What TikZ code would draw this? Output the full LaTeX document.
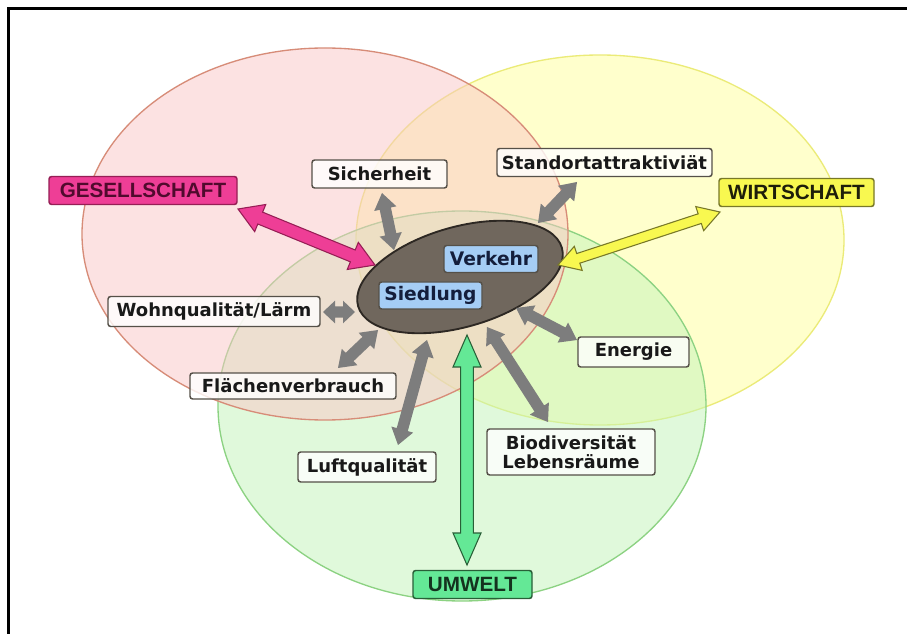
\documentclass[tikz,border=0pt]{standalone}
\usepackage{fontspec}
\newfontfamily\labfont{DejaVu Sans}
\newfontfamily\capfont{Liberation Sans}
\usetikzlibrary{calc,shapes.geometric}
\definecolor{redfill}{RGB}{250,198,198}
\definecolor{redline}{RGB}{215,140,120}
\definecolor{yelfill}{RGB}{255,255,155}
\definecolor{yelline}{RGB}{235,235,120}
\definecolor{grnfill}{RGB}{195,245,185}
\definecolor{grnline}{RGB}{140,210,130}
\definecolor{corefill}{RGB}{112,103,93}
\definecolor{coreline}{RGB}{45,40,35}
\definecolor{boxedge}{RGB}{85,80,72}
\definecolor{bluefill}{RGB}{165,205,245}
\definecolor{navytext}{RGB}{20,30,60}
\definecolor{arrgray}{RGB}{125,125,125}
\definecolor{magfill}{RGB}{238,62,150}
\definecolor{magline}{RGB}{150,30,85}
\definecolor{yarrfill}{RGB}{248,248,80}
\definecolor{yarrline}{RGB}{120,120,40}
\definecolor{garrfill}{RGB}{100,232,150}
\definecolor{garrline}{RGB}{40,95,55}
\newcommand\blkarrow[6]{%
  \coordinate (ha) at ($(#1)!#5!(#2)$);
  \coordinate (hb) at ($(#2)!#5!(#1)$);
  \draw[#6] (#1) -- ($(ha)!#4!90:(#2)$) -- ($(ha)!#3!90:(#2)$) -- ($(hb)!#3!-90:(#1)$) -- ($(hb)!#4!-90:(#1)$) -- (#2) -- ($(hb)!#4!90:(#1)$) -- ($(hb)!#3!90:(#1)$) -- ($(ha)!#3!-90:(#2)$) -- ($(ha)!#4!-90:(#2)$) -- cycle;
}
\tikzset{
  lbl/.style={draw=boxedge, line width=1.1pt, rounded corners=2pt, fill=white, fill opacity=0.8, text opacity=1,
    text=black!90, font=\labfont\bfseries\fontsize{13.5}{14.5}\selectfont, inner sep=1pt, minimum height=28*0.75pt},
  cap/.style={draw=#1, line width=1.1pt, rounded corners=2pt, inner sep=1pt, minimum height=28*0.75pt,
    font=\capfont\bfseries\fontsize{15.5}{16}\selectfont},
  core/.style={draw=boxedge, line width=1.1pt, rounded corners=2pt, fill=bluefill, text=navytext,
    font=\labfont\bfseries\fontsize{14}{15}\selectfont, inner sep=1pt, minimum height=27*0.75pt},
  grayarr/.style={fill=arrgray, draw=none},
}
\begin{document}
\begin{tikzpicture}[x=0.75pt,y=-0.75pt]
\fill[white] (0,0) rectangle (907,634);
\useasboundingbox (0,0) rectangle (907,634);
% frame
\draw[line width=1.6pt] (8.5,634) -- (8.5,8.5) -- (907,8.5);
% regions
\draw[fill=yelfill, fill opacity=0.5, draw=yelline, line width=1pt] (600,240) ellipse [x radius=244, y radius=185];
\draw[fill=grnfill, fill opacity=0.5, draw=grnline, line width=1pt] (462,406) ellipse [x radius=244, y radius=195];
\draw[fill=redfill, fill opacity=0.5, draw=redline, line width=1pt] (325,234) ellipse [x radius=243, y radius=186];
% core
\node[ellipse, draw=coreline, fill=corefill, line width=1.4pt, rotate=16, minimum width=212*0.75pt, minimum height=100*0.75pt, inner sep=0pt] (core) at (460,277) {};
\node[core, minimum width=94*0.75pt] (verkehr) at (491,259) {Verkehr};
\node[core, minimum width=103*0.75pt] (siedlung) at (430.5,295.5) {Siedlung};
% labels
\node[lbl, minimum width=135*0.75pt] (sicher) at (379.5,174) {Sicherheit};
\node[lbl, minimum width=215*0.75pt] (stand) at (604.5,162.5) {Standortattraktiviät};
\node[lbl, minimum width=212*0.75pt, minimum height=30*0.75pt] (wohn) at (214,311.5) {Wohnqualität/Lärm};
\node[lbl, minimum width=206*0.75pt, minimum height=26*0.75pt] (flaech) at (293,386) {Flächenverbrauch};
\node[lbl, minimum width=138*0.75pt, minimum height=30*0.75pt] (luft) at (367,467) {Luftqualität};
\node[lbl, minimum width=111*0.75pt, minimum height=30*0.75pt] (energie) at (633.5,352) {Energie};
\node[lbl, minimum width=168*0.75pt, minimum height=46*0.75pt, align=center] (bio) at (571,452) {Biodiversität\\Lebensräume};
\node[cap=magline, fill=magfill, text={rgb,255:red,80;green,10;blue,45}, minimum width=188*0.75pt] (ges) at (143,190.5) {GESELLSCHAFT};
\node[cap=yarrline, fill=yarrfill, text={rgb,255:red,30;green,30;blue,10}, minimum width=155*0.75pt] (wirt) at (796.5,192.5) {WIRTSCHAFT};
\node[cap=garrline, fill=garrfill, text={rgb,255:red,20;green,50;blue,30}, minimum width=119*0.75pt] (umw) at (472.5,584.5) {UMWELT};
% arrow end points
\coordinate (gesA) at (238,209);  \coordinate (gesB) at (375,265);
\coordinate (sicA) at (382,193);  \coordinate (sicB) at (394,250);
\coordinate (staA) at (577,182);  \coordinate (staB) at (538,223);
\coordinate (wirA) at (720,212);  \coordinate (wirB) at (558,265);
\coordinate (wohA) at (323,312);  \coordinate (wohB) at (355,312);
\coordinate (flaA) at (338,368);  \coordinate (flaB) at (378,330);
\coordinate (lufA) at (398,445);  \coordinate (lufB) at (427,340);
\coordinate (umwA) at (467,565);  \coordinate (umwB) at (467,335);
\coordinate (bioA) at (548,422);  \coordinate (bioB) at (487,327);
\coordinate (eneA) at (577,340);  \coordinate (eneB) at (516,308);
% arrows
\blkarrow{gesA}{gesB}{4.8pt}{11pt}{18pt}{fill=magfill, draw=magline, line width=0.8pt}
\blkarrow{wirA}{wirB}{3.8pt}{9.5pt}{16pt}{fill=yarrfill, draw=yarrline, line width=0.8pt}
\blkarrow{umwA}{umwB}{4.8pt}{10.5pt}{24pt}{fill=garrfill, draw=garrline, line width=0.8pt}
\blkarrow{sicA}{sicB}{4.3pt}{8.5pt}{12pt}{grayarr}
\blkarrow{staA}{staB}{4.3pt}{8.5pt}{12pt}{grayarr}
\blkarrow{wohA}{wohB}{4.3pt}{8.5pt}{9pt}{grayarr}
\blkarrow{flaA}{flaB}{4.3pt}{8.5pt}{12pt}{grayarr}
\blkarrow{lufA}{lufB}{4.3pt}{8.5pt}{12pt}{grayarr}
\blkarrow{bioA}{bioB}{4.3pt}{8.5pt}{12pt}{grayarr}
\blkarrow{eneA}{eneB}{4.3pt}{8.5pt}{12pt}{grayarr}
\end{tikzpicture}
\end{document}
